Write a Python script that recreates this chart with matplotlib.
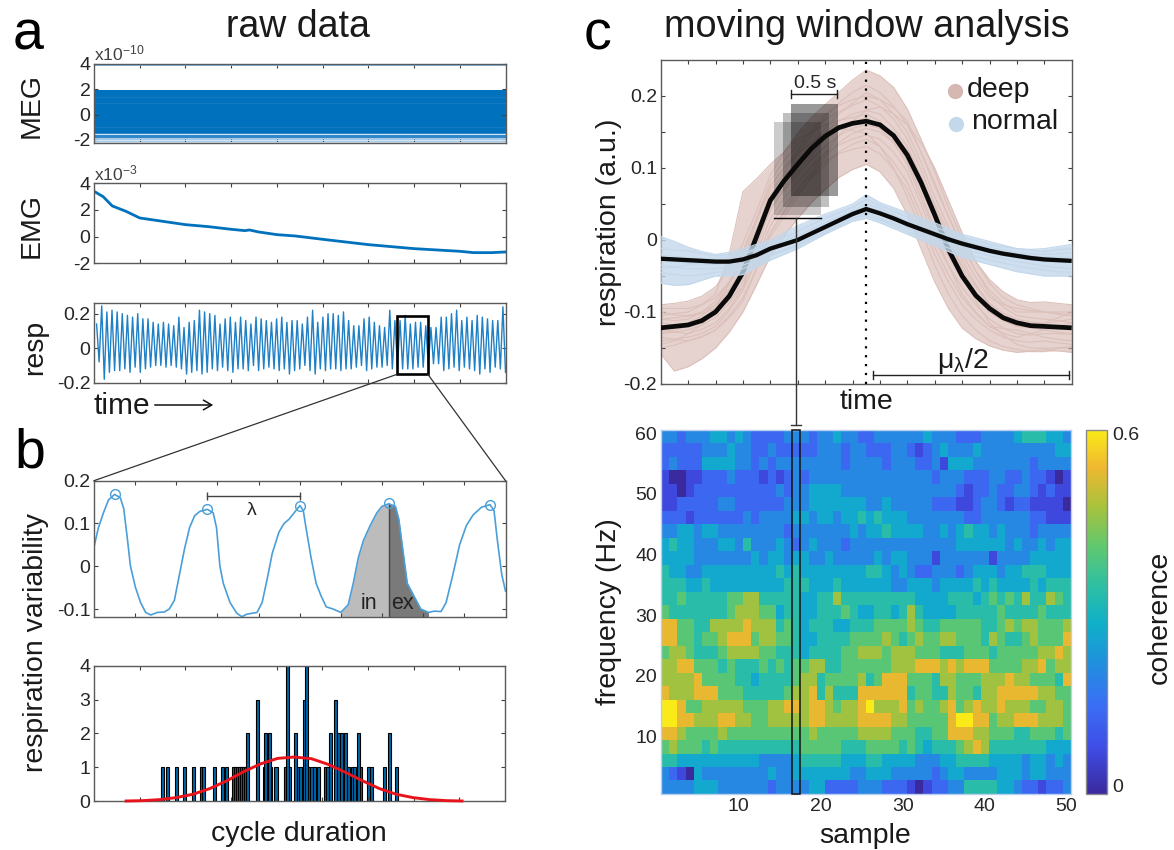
import numpy as np
import matplotlib
matplotlib.use("Agg")
import matplotlib.pyplot as plt
from matplotlib.colors import LinearSegmentedColormap
from matplotlib.lines import Line2D
from matplotlib.patches import Rectangle, FancyArrowPatch

# ---------- data ----------
meg_core = (-1.45, 1.94)
meg_mid_low = -1.85
meg_sparse_low = -2.25
meg_spike = 3.93
meg_light_lines = [-1.55, -2.02, -2.15]
meg_faint_lines = [-1.0, 0.95, 1.4]

emg_x = [0, .2, .4, .7, 1, 1.3, 1.6, 2, 2.5, 3, 3.3, 3.4, 3.6, 4, 4.4, 5, 5.5, 6, 6.5, 7, 7.5, 8, 8.3, 8.7, 9]
emg_y = [3.4, 3.0, 2.3, 1.9, 1.4, 1.25, 1.1, .9, .75, .55, .45, .5, .35, .15, .05, -.2, -.4, -.6, -.75, -.9, -1.0, -1.1, -1.2, -1.2, -1.15]

resp_peaks = [.14, .245, .21, .22, .21, .2, .19, .18, .2, .17, .17, .15, .14, .15, .14, .13, .18, .12, .15, .16,
              .22, .21, .2, .19, .14, .17, .18, .15, .18, .16, .14, .18, .17, .16, .15, .17, .18, .15, .16, .16,
              .14, .18, .22, .15, .18, .2, .2, .19, .21, .16, .13, .13, .17, .18, .15, .13, .12, .22, .16, .16,
              .19, .14, .15, .15, .13, .12, .12, .18, .18, .2, .22, .16, .18, .16, .19, .18, .17, .16, .16, .24]
resp_troughs = [-.08, -.18, -.14, -.13, -.13, -.12, -.14, -.11, -.14, -.12, -.11, -.10, -.10, -.11, -.10, -.11, -.12, -.15, -.14, -.13,
                -.15, -.14, -.12, -.13, -.11, -.13, -.14, -.12, -.12, -.13, -.10, -.13, -.12, -.11, -.12, -.13, -.12, -.15, -.13, -.12,
                -.10, -.13, -.15, -.12, -.13, -.12, -.12, -.13, -.12, -.12, -.11, -.10, -.13, -.12, -.11, -.11, -.10, -.12, -.11, -.12,
                -.12, -.12, -.11, -.11, -.10, -.09, -.09, -.13, -.12, -.11, -.13, -.11, -.12, -.13, -.15, -.12, -.14, -.11, -.12, -.14]

wave_x = [277, 290, 305, 320, 338, 355, 365, 375, 385, 400, 415, 430, 445, 465, 485, 500, 515, 530, 545, 560, 575, 590, 613,
          630, 640, 650, 660, 680, 700, 715, 730, 760, 775, 790, 805, 825, 840, 855, 870, 887, 897, 905, 920, 935, 950, 965, 985,
          1008, 1030, 1045, 1060, 1075, 1095, 1115, 1130, 1150, 1170, 1180, 1190, 1205, 1225, 1245, 1268, 1285, 1305, 1320, 1340,
          1360, 1380, 1400, 1425, 1450, 1462, 1472, 1485, 1496]
wave_y = [.045, .09, .125, .155, .168, .16, .135, .07, .0, -.05, -.085, -.108, -.114, -.108, -.107, -.1, -.08, -.02, .04, .09, .118, .128, .133,
          .125, .09, .0, -.04, -.085, -.11, -.118, -.112, -.108, -.085, -.03, .03, .08, .1, .11, .125, .142, .13, .09, .02, -.04, -.07, -.095, -.1,
          -.108, -.09, -.04, .02, .06, .095, .125, .14, .146, .14, .11, .05, -.04, -.07, -.1, -.108, -.105, -.106, -.085, -.02,
          .05, .095, .12, .138, .144, .13, .06, -.02, -.058]
peak_x = [338, 613, 887, 1151, 1450]
peak_y = [.168, .133, .142, .148, .144]

hist_x1 = [480, 494, 522, 544, 572, 595, 600, 633, 656, 670, 689, 695, 701, 707, 713, 719, 725, 780, 800, 815, 843, 855,
           880, 887, 912, 920, 928, 942, 962, 968, 1010, 1028, 1040, 1047, 1066, 1088, 1096, 1136, 1172]
hist_x2 = [732, 785, 795, 872, 976, 1000, 1008, 1020, 1060, 1150]
hist_x3 = [760, 898, 990]
hist_x4 = [850, 905]
fit_x = [372, 420, 470, 520, 570, 620, 670, 720, 770, 820, 870, 920, 970, 1020, 1070, 1120, 1170, 1220, 1270, 1320, 1365]
fit_y = [0, .01, .04, .1, .2, .37, .6, .87, 1.1, 1.26, 1.3, 1.25, 1.08, .85, .6, .37, .2, .1, .04, .01, 0]

grid_c = [0, .5, 1, 1.5, 2, 2.5, 3, 3.5, 4, 4.5, 5, 5.5, 6, 6.5, 7, 7.5, 8, 8.5, 9, 9.5, 10, 10.5, 11, 11.5, 12, 12.5, 13, 13.5, 14, 14.5, 15]
deep_traces = [
    [-.09, -.088, -.085, -.078, -.065, -.04, -.005, .04, .09, .122, .148, .17, .188, .205, .222, .236, .228, .212, .182, .14, .095, .045, .002, -.03, -.055, -.072, -.083, -.087, -.086, -.088, -.09],
    [-.158, -.182, -.176, -.165, -.15, -.128, -.10, -.062, -.022, .005, .03, .052, .07, .087, .098, .105, .095, .072, .035, -.012, -.058, -.095, -.122, -.137, -.147, -.153, -.156, -.154, -.152, -.154, -.156],
    [-.11, -.112, -.11, -.10, -.085, -.058, -.02, .03, .082, .11, .133, .15, .167, .178, .187, .195, .186, .168, .14, .098, .05, .01, -.028, -.062, -.088, -.102, -.11, -.114, -.116, -.113, -.11],
    [-.13, -.128, -.125, -.118, -.108, -.088, -.058, -.018, .03, .058, .08, .102, .12, .132, .14, .146, .14, .122, .095, .05, .0, -.035, -.066, -.09, -.11, -.122, -.13, -.132, -.13, -.13, -.131],
    [-.10, -.104, -.105, -.10, -.09, -.062, -.03, .015, .062, .094, .12, .146, .17, .19, .205, .215, .205, .186, .16, .122, .08, .033, -.01, -.043, -.07, -.088, -.10, -.10, -.10, -.103, -.105],
    [-.14, -.138, -.135, -.13, -.12, -.098, -.07, -.028, .02, .048, .07, .092, .11, .12, .126, .13, .12, .098, .07, .026, -.02, -.058, -.09, -.11, -.125, -.135, -.14, -.142, -.14, -.143, -.145],
    [-.12, -.118, -.115, -.105, -.09, -.068, -.04, .012, .07, .09, .11, .132, .15, .165, .175, .18, .175, .155, .13, .088, .04, .0, -.035, -.065, -.09, -.105, -.115, -.12, -.12, -.122, -.125],
    [-.105, -.102, -.10, -.09, -.075, -.02, .067, .085, .105, .122, .14, .15, .16, .166, .17, .175, .165, .14, .11, .065, .015, -.022, -.055, -.08, -.10, -.112, -.12, -.118, -.115, -.108, -.10],
    [-.15, -.146, -.14, -.135, -.125, -.105, -.08, -.04, .005, .032, .06, .088, .115, .135, .148, .155, .15, .136, .115, .075, .03, -.01, -.05, -.085, -.115, -.132, -.145, -.15, -.15, -.15, -.15],
    [-.115, -.118, -.12, -.112, -.10, -.075, -.045, -.002, .04, .07, .10, .13, .155, .175, .19, .205, .195, .175, .15, .108, .06, .018, -.02, -.052, -.08, -.09, -.095, -.098, -.10, -.10, -.10],
    [-.125, -.128, -.13, -.124, -.115, -.095, -.065, -.01, .045, .068, .09, .112, .13, .145, .155, .16, .155, .135, .105, .058, .01, -.035, -.075, -.1, -.12, -.13, -.135, -.13, -.125, -.12, -.115],
    [-.095, -.095, -.095, -.09, -.08, -.058, -.03, .025, .075, .1, .125, .152, .175, .187, .195, .20, .195, .184, .165, .122, .075, .032, -.005, -.043, -.075, -.093, -.105, -.108, -.11, -.112, -.115],
    [-.135, -.138, -.14, -.134, -.125, -.108, -.085, -.04, .01, .038, .065, .086, .105, .122, .133, .14, .13, .108, .08, .036, -.01, -.048, -.08, -.102, -.12, -.123, -.125, -.13, -.135, -.138, -.14],
    [-.13, -.125, -.12, -.11, -.095, -.07, -.04, .005, .05, .072, .095, .118, .14, .155, .163, .17, .16, .145, .125, .088, .045, .003, -.04, -.073, -.10, -.112, -.12, -.122, -.125, -.128, -.13],
    [-.11, -.108, -.106, -.102, -.095, -.085, -.065, -.03, .01, .04, .07, .095, .12, .145, .165, .18, .185, .175, .16, .135, .10, .055, .01, -.03, -.06, -.08, -.09, -.095, -.10, -.102, -.105],
    [-.145, -.14, -.13, -.118, -.095, -.06, -.015, .03, .075, .1, .12, .135, .148, .155, .152, .148, .13, .10, .06, .015, -.035, -.075, -.105, -.125, -.14, -.148, -.152, -.155, -.155, -.15, -.148],
]
normal_traces = [
    [.005, -.002, -.01, -.016, -.02, -.017, -.012, -.006, 0, .01, .02, .028, .036, .043, .05, .063, .052, .045, .038, .031, .024, .016, .008, .003, -.002, -.007, -.012, -.013, -.012, -.009, -.006],
    [-.06, -.063, -.062, -.056, -.05, -.05, -.048, -.038, -.028, -.02, -.012, -.002, .008, .017, .026, .03, .024, .016, .008, 0, -.008, -.016, -.024, -.029, -.034, -.039, -.044, -.047, -.05, -.05, -.05],
    [-.02, -.023, -.025, -.026, -.025, -.023, -.02, -.014, -.008, -.001, .006, .015, .024, .032, .04, .05, .044, .035, .026, .019, .012, .006, 0, -.005, -.01, -.014, -.018, -.019, -.02, -.019, -.018],
    [-.035, -.038, -.04, -.04, -.04, -.038, -.035, -.028, -.02, -.013, -.006, .003, .012, .021, .03, .038, .03, .023, .016, .009, .002, -.005, -.012, -.017, -.022, -.026, -.03, -.033, -.036, -.038, -.04],
    [-.012, -.014, -.015, -.019, -.022, -.02, -.018, -.012, -.005, .003, .012, .021, .03, .038, .045, .056, .048, .04, .032, .025, .018, .011, .004, -.001, -.006, -.009, -.012, -.014, -.016, -.014, -.012],
    [-.045, -.048, -.05, -.048, -.045, -.043, -.04, -.031, -.022, -.015, -.008, .001, .01, .02, .03, .034, .028, .02, .012, .004, -.004, -.011, -.018, -.023, -.028, -.032, -.036, -.039, -.042, -.044, -.045],
    [-.028, -.03, -.032, -.033, -.034, -.032, -.03, -.022, -.014, -.007, 0, .01, .02, .028, .036, .042, .036, .028, .02, .013, .006, -.001, -.008, -.013, -.018, -.022, -.025, -.028, -.03, -.03, -.03],
    [-.04, -.037, -.035, -.032, -.03, -.029, -.028, -.022, -.016, -.007, .002, .009, .016, .025, .034, .046, .04, .032, .024, .017, .01, .003, -.003, -.009, -.014, -.017, -.02, -.022, -.024, -.024, -.024],
]
deep_mean = [-.122, -.120, -.118, -.112, -.10, -.078, -.045, .005, .055, .082, .105, .127, .144, .156, .162, .165, .16, .145, .118, .08, .035, -.013, -.05, -.077, -.095, -.108, -.115, -.119, -.12, -.121, -.122]
norm_mean = [-.026, -.027, -.028, -.029, -.03, -.03, -.027, -.021, -.012, -.006, 0, .009, .018, .027, .036, .043, .037, .03, .022, .015, .008, .001, -.005, -.01, -.015, -.019, -.022, -.025, -.027, -.028, -.029]

# coherence, top row = 60 Hz; one digit per sample, 0-9 on a 0-0.6 scale
coh_rows = [
    "3323334434 3222233323 3433223333 3343332223 3334555443",
    "2222233343 3223222223 3323322233 2123433343 3333333344",
    "2322244443 3232333333 3323333233 3223144433 3333323333",
    "1001122232 2212123233 3333333333 3332333222 3322322101",
    "1101222222 2222323344 4433333333 3333332122 3223321211",
    "1122222332 2222233344 4444433433 3332221123 3212211110",
    "2221222222 3233334434 4344545444 3333333223 3333322111",
    "3344344333 3333323333 3334344544 4433434544 3433323333",
    "4544333443 5333432343 3323333333 3333334444 4434334344",
    "4444333333 3434434433 4333334344 3331333333 1333344444",
    "5443344444 4444545444 4444455434 3223332344 4344555444",
    "5554454444 4444455544 4544444433 4443444454 5444454555",
    "5565555566 7755555445 5755555555 5444455545 6565755765",
    "6555555567 7766455445 5565445545 7544445555 5655556555",
    "8866557777 8777565455 5445556666 7655666665 5676776667",
    "8866566788 8677665445 5556666765 6766776665 7655676668",
    "6776555677 7766555455 5566777677 7666555666 5666667787",
    "7788666565 5565656677 5566666677 7888787888 6666778677",
    "7777866665 5455556775 6666756888 6665776667 7787766658",
    "8777888666 5555567785 7555888888 5665576657 7888887766",
    "9986677777 6667788788 7677897778 6766786787 7877766776",
    "9988777887 7667777788 7777888877 6666689988 6778887776",
    "8876666766 6666666676 6666777766 6556688877 6665566656",
    "6766656555 5555555666 6655566665 6545556787 5555555444",
    "5544444444 4433334555 5544455444 4333445555 4444344343",
    "3210433333 3334334444 4443344433 3332344333 3444344333",
    "3333444333 3332333344 2222333222 1012233555 5443221223",
]

# ---------- style ----------
W, H = 1174, 850
plt.rcParams.update({
    "font.family": ["Liberation Sans", "DejaVu Sans"],
    "mathtext.fontset": "custom", "mathtext.rm": "Liberation Sans",
    "mathtext.it": "Liberation Sans", "mathtext.default": "regular",
    "axes.edgecolor": "#5a5a5a", "axes.linewidth": 1.0,
    "xtick.color": "#404040", "ytick.color": "#404040",
    "xtick.labelcolor": "#262626", "ytick.labelcolor": "#262626",
    "xtick.direction": "in", "ytick.direction": "in",
    "xtick.top": True, "ytick.right": True,
    "xtick.major.size": 3, "ytick.major.size": 3,
    "xtick.labelsize": 14, "ytick.labelsize": 14,
    "ytick.major.pad": 2.5, "xtick.major.pad": 3,
})
BLUE = "#0072BD"
DEEP = "#d6b7b1"
NORM = "#c3d8eb"
parula = LinearSegmentedColormap.from_list("parula_like", [
    (0, "#3a2a9e"), (.13, "#3f4ee8"), (.25, "#3a70f5"), (.36, "#2090dd"), (.47, "#10b0c8"),
    (.58, "#30c0a0"), (.68, "#60c870"), (.79, "#a8c23c"), (.9, "#f0b830"), (1, "#f9ea18")])

fig = plt.figure(figsize=(W / 100, H / 100), dpi=100)


def ax_px(l, t, r, b):
    return fig.add_axes([l / W, 1 - b / H, (r - l) / W, (b - t) / H])


def txt(x, y, s, size=20.5, **kw):
    kw.setdefault("ha", "center")
    kw.setdefault("va", "center")
    kw.setdefault("color", "#1a1a1a")
    fig.text(x / W, 1 - y / H, s, fontsize=size, **kw)


def line(xs, ys, **kw):
    kw.setdefault("color", "#333333")
    kw.setdefault("lw", 0.9)
    fig.add_artist(Line2D([x / W for x in xs], [1 - y / H for y in ys], transform=fig.transFigure, **kw))


def xticks_n(ax, lo, hi, n):
    ax.set_xticks([lo + (hi - lo) * i / n for i in range(1, n)])
    ax.set_xticklabels([])


L_A, R_A = 94, 505.5

# ---------- MEG ----------
ax = ax_px(L_A, 64, R_A, 143)
ax.set_xlim(0, 9); ax.set_ylim(-2.25, 4)
ax.axhspan(meg_sparse_low, meg_mid_low, color="#a5cbe8", lw=0)
ax.axhspan(meg_mid_low, meg_core[0], color="#2f86c8", lw=0)
ax.axhspan(meg_core[0], meg_core[1], color=BLUE, lw=0)
ax.axhline(meg_spike, color="#7cb4de", lw=1.3)
for g in meg_light_lines:
    ax.axhline(g, color="#d6e6f4", lw=0.7)
for g in meg_faint_lines:
    ax.axhline(g, color="#1a7cc2", lw=0.6)
xticks_n(ax, 0, 9, 9)
ax.set_yticks([-2, 0, 2, 4]); ax.set_yticklabels(["-2", "0", "2", "4"])
txt(94, 53, "x10$^{-10}$", 12.5, ha="left", color="#404040")

# ---------- EMG ----------
ax = ax_px(L_A, 183.3, R_A, 263.3)
ax.plot(emg_x, emg_y, color=BLUE, lw=2)
ax.set_xlim(0, 9); ax.set_ylim(-2, 4)
xticks_n(ax, 0, 9, 9)
ax.set_yticks([-2, 0, 2, 4]); ax.set_yticklabels(["-2", "0", "2", "4"])
txt(94, 173, "x10$^{-3}$", 12.5, ha="left", color="#404040")

# ---------- resp ----------
ax = ax_px(L_A, 303.3, R_A, 382.7)
r_x, r_y = [], []
for i, (p, q) in enumerate(zip(resp_peaks, resp_troughs)):
    r_x += [i, i + .5]
    r_y += [p, q]
ax.plot(r_x, r_y, color="#1f80c6", lw=1.0)
ax.set_xlim(-.5, 79.5); ax.set_ylim(-.2, .26)
xticks_n(ax, -.5, 79.5, 9)
ax.set_yticks([-.2, 0, .2]); ax.set_yticklabels(["-0.2", "0", "0.2"])

fig.add_artist(Rectangle((396.5 / W, 1 - 374 / H), 31 / W, 58 / H, transform=fig.transFigure,
                         fill=False, ec="black", lw=1.9))
line([396.5, 94], [374.5, 480.7])
line([428, 505.5], [374.5, 480.7])
txt(93, 406, "time", 21.5, ha="left")
fig.add_artist(FancyArrowPatch((152 / W, 1 - 405 / H), (216 / W, 1 - 405 / H),
               transform=fig.transFigure, arrowstyle="->,head_length=6,head_width=3.5", lw=1.1, color="#111111"))

# ---------- cycle wave ----------
ax = ax_px(L_A, 480.7, R_A, 616.7)
wx, wy = np.array(wave_x), np.array(wave_y)
ax.fill_between(wx, -.118, wy, where=(wx >= 1008) & (wx <= 1150), color="#bcbcbc", lw=0)
ax.fill_between(wx, -.118, wy, where=(wx >= 1150) & (wx <= 1268), color="#7a7a7a", lw=0)
ax.plot([1150, 1150], [-.118, .146], color="#444444", lw=1)
ax.plot(wx, wy, color="#4a9fd8", lw=1.2)
ax.plot(peak_x, peak_y, "o", mfc="none", mec="#4a9fd8", ms=7, mew=1)
ax.set_xlim(277, 1496); ax.set_ylim(-.118, .2)
xticks_n(ax, 277, 1496, 10)
ax.set_yticks([-.1, 0, .1, .2]); ax.set_yticklabels(["-0.1", "0", "0.1", "0.2"])
ax.plot([612, 888], [.164, .164], color="#444444", lw=1, marker="|", ms=6)
ax.text(745, .13, "λ", fontsize=14, ha="center", va="center", color="#262626")
ax.text(1090, -.088, "in", fontsize=15.5, ha="center", va="center", color="#222222")
ax.text(1190, -.088, "ex", fontsize=15.5, ha="center", va="center", color="#222222")

# ---------- histogram ----------
ax = ax_px(L_A, 665.7, 505, 801)
for xs, h in ((hist_x1, 1), (hist_x2, 2), (hist_x3, 3), (hist_x4, 4)):
    ax.bar(xs, [h] * len(xs), width=9, color="#0067ab", edgecolor="black", lw=0.8)
ax.plot(fit_x, fit_y, color="#e8141c", lw=2.1, clip_on=False, zorder=5)
ax.set_xlim(277, 1492); ax.set_ylim(0, 4)
xticks_n(ax, 277, 1492, 9)
ax.set_yticks([0, 1, 2, 3, 4]); ax.set_yticklabels(["0", "1", "2", "3", "4"])

# ---------- respiration traces ----------
ax = ax_px(660.7, 60, 1071.7, 384)
deep_arr, norm_arr = np.array(deep_traces), np.array(normal_traces)
ax.fill_between(grid_c, deep_arr.min(0), deep_arr.max(0), color=DEEP, alpha=.6, lw=0, zorder=1)
for t in deep_traces:
    ax.plot(grid_c, t, color="#dcc0ba", lw=.8, zorder=2)
ax.add_patch(Rectangle((4.14, .035), 1.70, .129, color="black", alpha=.2, lw=0, zorder=3))
ax.add_patch(Rectangle((4.45, .0465), 1.68, .1295, color="black", alpha=.25, lw=0, zorder=3))
ax.add_patch(Rectangle((4.77, .061), 1.69, .128, color="black", alpha=.4, lw=0, zorder=3))
ax.plot(grid_c, deep_mean, color="#0a0a0a", lw=3.4, zorder=4, solid_capstyle="butt")
ax.fill_between(grid_c, norm_arr.min(0), norm_arr.max(0), color=NORM, alpha=.8, lw=0, zorder=5)
for t in normal_traces:
    ax.plot(grid_c, t, color="#c3d8eb", lw=.8, zorder=6)
ax.plot(grid_c, norm_mean, color="#0a0a0a", lw=3.1, zorder=7, solid_capstyle="butt")
ax.plot([7.5, 7.5], [-.2, .25], color="black", lw=1.6, ls=(0, (1, 3)), zorder=8)
ax.set_xlim(0, 15); ax.set_ylim(-.2, .25)
xticks_n(ax, 0, 15, 15)
ax.set_yticks([-.2, -.15, -.1, -.05, 0, .05, .1, .15, .2])
ax.set_yticklabels(["-0.2", "", "-0.1", "", "0", "", "0.1", "", "0.2"])

ax.plot([4.14, 5.84], [.03, .03], color="black", lw=1, zorder=9)
line([796, 796], [218, 425], color="#333333", lw=1, zorder=20)
line([791, 801], [425, 425], color="#333333", lw=1, zorder=20)
line([791, 837], [94, 94], color="#222222", lw=1)
line([791, 791], [90, 98], color="#222222", lw=1)
line([837, 837], [90, 98], color="#222222", lw=1)
txt(815, 83, "0.5 s", 14, color="#262626")
line([873, 1069], [375, 375], color="#222222", lw=1)
line([873, 873], [371, 379], color="#222222", lw=1)
line([1069, 1069], [371, 379], color="#222222", lw=1)
txt(963, 361, r"$\mu_{\lambda}$/2", 20.5)
fig.add_artist(Line2D([955 / W], [1 - 91 / H], marker="o", ms=10, color=DEEP, transform=fig.transFigure))
fig.add_artist(Line2D([956 / W], [1 - 124 / H], marker="o", ms=10, color=NORM, transform=fig.transFigure))
txt(967, 90, "deep", 20.5, ha="left")
txt(971, 122, "normal", 20.5, ha="left")

# ---------- heatmap ----------
coh = np.array([[int(c) for c in r.replace(" ", "")] for r in coh_rows]) / 9 * 0.6
ax = ax_px(660.7, 430, 1070.7, 794)
im = ax.imshow(coh, cmap=parula, vmin=0, vmax=.6, aspect="auto", interpolation="nearest",
               extent=(.5, 50.5, .5, 60.5))
ax.set_xticks([10, 20, 30, 40, 50]); ax.set_yticks([10, 20, 30, 40, 50, 60])
ax.tick_params(top=False, right=False, length=0)
for s in ax.spines.values():
    s.set_color("#b8d0ee")
ax.add_patch(Rectangle((16.5, .5), 1, 60, fill=False, ec="#111111", lw=1.1, clip_on=False, zorder=5))

cax = ax_px(1086, 430, 1107, 794)
cb = fig.colorbar(im, cax=cax)
cb.set_ticks([]); cb.outline.set_edgecolor("#8a8a8a")
txt(1112, 436, "0.6", 14, ha="left", color="#262626")
txt(1112, 788, "0", 14, ha="left", color="#262626")

# ---------- titles and labels ----------
txt(298, 27, "raw data", 27)
txt(867, 27, "moving window analysis", 27.2)
txt(13, 50, "a", 40, color="black", ha="left", va="baseline")
txt(14, 467, "b", 40, color="black", ha="left", va="baseline")
txt(584, 49, "c", 40, color="black", ha="left", va="baseline")
txt(32, 105, "MEG", 20.5, rotation=90)
txt(32, 225, "EMG", 20.5, rotation=90)
txt(35, 347, "resp", 20.5, rotation=90)
txt(36, 642, "respiration variability", 20.5, rotation=90)
txt(299, 834, "cycle duration", 20.5)
txt(609, 222, "respiration (a.u.)", 20.5, rotation=90)
txt(866, 402, "time", 20.5)
txt(609, 612, "frequency (Hz)", 20.5, rotation=90)
txt(865, 836, "sample", 20.5)
txt(1160, 617, "coherence", 20.5, rotation=90)

fig.savefig("out.png", dpi=100)
